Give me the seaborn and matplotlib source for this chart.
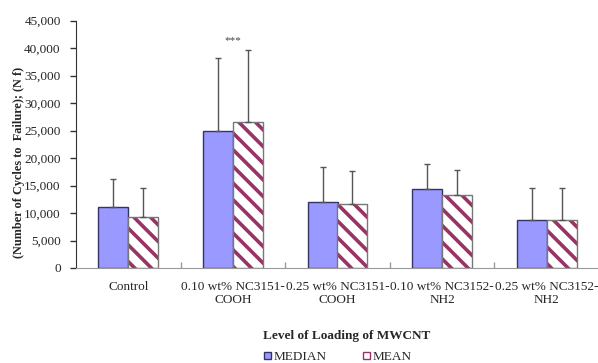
import pandas as pd
import matplotlib
matplotlib.use("Agg")
import matplotlib.pyplot as plt
import matplotlib.colors as mcolors
import seaborn as sns
from matplotlib.patches import Patch
from matplotlib.ticker import FuncFormatter, MultipleLocator, FixedLocator

# values
categories = ["Control", "0.10 wt% NC3151-\nCOOH", "0.25 wt% NC3151-\nCOOH",
              "0.10 wt% NC3152-\nNH2", "0.25 wt% NC3152-\nNH2"]
stats = ["MEDIAN", "MEAN"]
median_nf = [11100, 25000, 12100, 14300, 8700]
mean_nf = [9300, 26500, 11600, 13200, 8700]
median_sd = [5050, 13250, 6230, 4700, 5900]
mean_sd = [5200, 13200, 6100, 4700, 5900]

BLUE = "#9999FF"
MAROON = "#993366"

df = pd.DataFrame({
    "level": categories * 2,
    "stat": ["MEDIAN"] * len(categories) + ["MEAN"] * len(categories),
    "nf": median_nf + mean_nf,
})

sns.set_style("white")
plt.rcParams["font.family"] = ["Liberation Serif", "DejaVu Serif"]
plt.rcParams["hatch.linewidth"] = 2.6
plt.rcParams["hatch.color"] = MAROON

fig = plt.figure(figsize=(5.98, 3.63), dpi=100)
ax = fig.add_axes([76 / 598, 1 - 268 / 363, (599 - 76) / 598, (268 - 20.7) / 363])

sns.barplot(data=df, x="level", y="nf", hue="stat", order=categories,
            hue_order=stats, width=0.57, gap=0, errorbar=None,
            legend=False, ax=ax)

med_bars, mean_bars = ax.containers[0], ax.containers[1]
for b in med_bars:
    b.set_facecolor(BLUE)
    b.set_edgecolor("#333366")
    b.set_linewidth(1.0)
for b in mean_bars:
    b.set_facecolor("white")
    b.set_edgecolor("#777777")
    b.set_linewidth(1.0)
    b.set_hatch("\\\\")
    if hasattr(b, "set_hatchcolor"):
        b.set_hatchcolor(MAROON)
    else:
        b._hatch_color = mcolors.to_rgba(MAROON)

# one-sided error bars
for bars, sd in [(med_bars, median_sd), (mean_bars, mean_sd)]:
    xs = [b.get_x() + b.get_width() / 2 for b in bars]
    ys = [b.get_height() for b in bars]
    ax.errorbar(xs, ys, yerr=[[0] * len(sd), sd], fmt="none", ecolor="#555555",
                elinewidth=1, capsize=2, capthick=1, zorder=1)

ax.text(1, 41300, "***", ha="center", va="center", fontsize=8, color="#444444")

ax.set_xlim(-0.5, 4.5)
ax.set_ylim(0, 45000)
ax.yaxis.set_major_locator(MultipleLocator(5000))
ax.yaxis.set_major_formatter(FuncFormatter(lambda v, p: f"{int(v):,}"))
ax.xaxis.set_minor_locator(FixedLocator([0.5, 1.5, 2.5, 3.5]))

ax.tick_params(axis="y", direction="out", length=4, width=1, color="#333333",
               labelsize=9.5, pad=7, left=True)
ax.tick_params(axis="x", which="major", length=0, labelsize=9.5, pad=9)
ax.tick_params(axis="x", which="minor", direction="in", length=4, width=1,
               color="#999999", bottom=True)

for s in ["top", "right"]:
    ax.spines[s].set_visible(False)
ax.spines["left"].set_color("#333333")
ax.spines["bottom"].set_color("#999999")

ax.set_xlabel("")
ax.set_ylabel("(Number of Cycles to  Failure); (N f)", fontsize=8.8,
              fontweight="bold")
ax.yaxis.set_label_coords((25 - 76) / 523, 0.425)

fig.text(347 / 598, 1 - 336 / 363, "Level of Loading of MWCNT", ha="center",
         va="center", fontsize=9.5, fontweight="bold")

handles = [Patch(facecolor=BLUE, edgecolor="#333366"),
           Patch(facecolor="white", edgecolor=MAROON)]
fig.legend(handles, stats, loc="center", bbox_to_anchor=(338 / 598, 1 - 357 / 363),
           ncol=2, frameon=False, fontsize=9.5, handlelength=0.5,
           handleheight=0.5, handletextpad=0.2, columnspacing=2.8)

fig.savefig("out.png", dpi=100)
